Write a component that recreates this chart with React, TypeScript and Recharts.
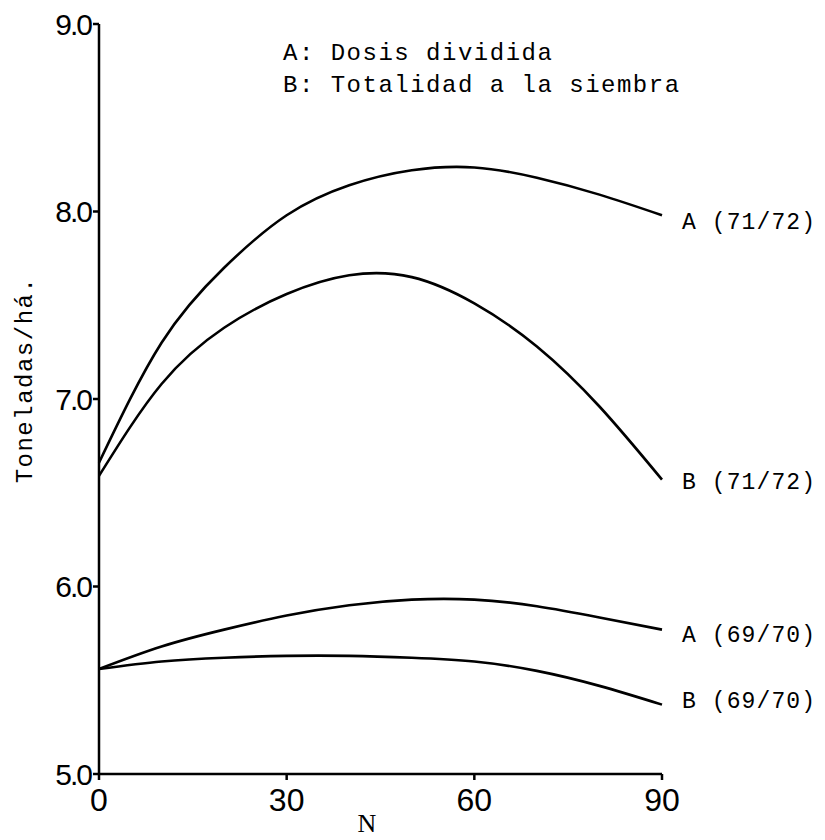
import React from "react";
import { LineChart, Line, XAxis, YAxis, LabelList } from "recharts";

const nDoses = [0, 10, 20, 30, 40, 50, 60, 70, 80, 90];
const a7172 = [6.66, 7.3, 7.7, 7.98, 8.14, 8.22, 8.235, 8.18, 8.09, 7.98];
const b7172 = [6.59, 7.08, 7.38, 7.56, 7.66, 7.65, 7.51, 7.28, 6.96, 6.57];
const a6970 = [5.56, 5.68, 5.77, 5.845, 5.9, 5.93, 5.93, 5.895, 5.835, 5.77];
const b6970 = [5.56, 5.6, 5.62, 5.63, 5.63, 5.62, 5.6, 5.55, 5.47, 5.37];

const yTicks = [5, 6, 7, 8, 9];
const xTicks = [0, 30, 60, 90];

const data = nDoses.map((n, i) => ({
  n,
  a7172: a7172[i],
  b7172: b7172[i],
  a6970: a6970[i],
  b6970: b6970[i],
}));

const typeFont = "'Liberation Mono', 'DejaVu Sans Mono', monospace";
const tickFont = "'Liberation Sans Narrow', 'Liberation Sans', sans-serif";

const series = [
  { key: "a7172", name: "A (71/72)", dy: 8 },
  { key: "b7172", name: "B (71/72)", dy: 3 },
  { key: "a6970", name: "A (69/70)", dy: 6 },
  { key: "b6970", name: "B (69/70)", dy: -3 },
];

function endLabel(name: string, dy: number) {
  return (props: any) => {
    if (props.index !== nDoses.length - 1) return null;
    return (
      <text
        x={props.x + 20}
        y={props.y + dy}
        dominantBaseline="central"
        fontFamily={typeFont}
        fontSize={23}
        letterSpacing={1.1}
        fill="#000"
      >
        {name}
      </text>
    );
  };
}

export default function App() {
  return (
    <div style={{ position: "fixed", top: 0, left: 0, background: "#fff" }}>
      <LineChart
        width={825}
        height={840}
        data={data}
        margin={{ top: 24, right: 163, left: 0, bottom: 0 }}
      >
        <XAxis
          dataKey="n"
          type="number"
          domain={[0, 90]}
          ticks={xTicks}
          height={66}
          stroke="#000"
          strokeWidth={2.5}
          tickSize={6}
          tickMargin={8}
          tick={{ fontFamily: tickFont, fontSize: 32, fill: "#000" }}
        />
        <YAxis
          type="number"
          domain={[5, 9]}
          ticks={yTicks}
          width={99}
          stroke="#000"
          strokeWidth={2.5}
          tickSize={6}
          tickMargin={2}
          tickFormatter={(v: number) => v.toFixed(1)}
          tick={{ fontFamily: tickFont, fontSize: 30, fill: "#000", letterSpacing: -2 }}
        />
        {series.map((s) => (
          <Line
            key={s.key}
            dataKey={s.key}
            type="natural"
            stroke="#000"
            strokeWidth={2.6}
            dot={false}
            isAnimationActive={false}
          >
            <LabelList dataKey={s.key} content={endLabel(s.name, s.dy)} />
          </Line>
        ))}
        <text x={283} y={60} fontFamily={typeFont} fontSize={24} letterSpacing={1.5} fill="#000">
          A: Dosis dividida
        </text>
        <text x={283} y={92} fontFamily={typeFont} fontSize={24} letterSpacing={1.5} fill="#000">
          B: Totalidad a la siembra
        </text>
        <text
          x={25}
          y={380}
          transform="rotate(-90 25 380)"
          textAnchor="middle"
          dominantBaseline="central"
          fontFamily={typeFont}
          fontSize={24}
          letterSpacing={1.5}
          fill="#000"
        >
          Toneladas/há.
        </text>
        <text x={367} y={832} textAnchor="middle" fontFamily="'Liberation Serif', serif" fontSize={26} fill="#000">
          N
        </text>
      </LineChart>
    </div>
  );
}
